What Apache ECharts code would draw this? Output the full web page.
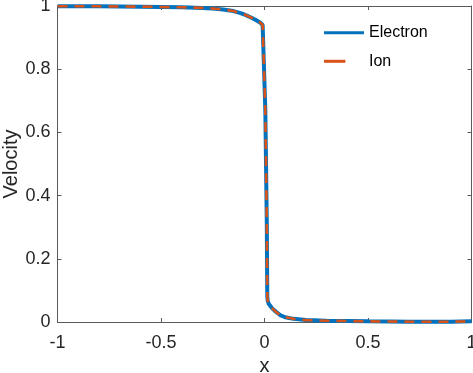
<!DOCTYPE html>
<html>
<head>
<meta charset="utf-8">
<script src="https://cdn.jsdelivr.net/npm/echarts@6/dist/echarts.min.js"></script>
<style>
html,body{margin:0;padding:0;background:#fff;}
#c{width:473px;height:373px;}
</style>
</head>
<body>
<div id="c"></div>
<script>
var xs = [-1, -0.8, -0.6, -0.5, -0.4, -0.3, -0.25, -0.2, -0.15, -0.12, -0.1, -0.08, -0.06, -0.04, -0.02, -0.009, 0.004, 0.011, 0.0135, 0.016, 0.02, 0.035, 0.05, 0.075, 0.1, 0.14, 0.2, 0.3, 0.5, 0.7, 0.9, 1.0];
var electronV = [0.999, 0.999, 0.998, 0.997, 0.996, 0.994, 0.992, 0.989, 0.984, 0.978, 0.974, 0.968, 0.962, 0.955, 0.947, 0.940, 0.67, 0.32, 0.08, 0.066, 0.058, 0.045, 0.035, 0.022, 0.015, 0.010, 0.006, 0.004, 0.002, 0.001, 0.001, 0.002];
var ionV = electronV.slice();
var xTicks = [-1, -0.5, 0, 0.5, 1];
var yTicks = [0, 0.2, 0.4, 0.6, 0.8, 1];
var seriesNames = ['Electron', 'Ion'];

var FONT = 'Liberation Sans, Arial, Helvetica, sans-serif';
function pairs(x, y){ return x.map(function(v,i){ return [v, y[i]]; }); }
var axisCol = '#5a5a5a';
var chart = echarts.init(document.getElementById('c'));
chart.setOption({
  animation: false,
  backgroundColor: '#fff',
  grid: {left: 57.5, right: 1.5, top: 6, bottom: 51, containLabel: false, outerBoundsMode: 'none'},
  legend: {
    orient: 'vertical', left: 322.5, top: 24.7, padding: 0,
    itemWidth: 40, itemHeight: 14, itemGap: 12.6,
    itemStyle: {opacity: 0},
    lineStyle: {width: 3},
    textStyle: {fontFamily: FONT, fontSize: 16, color: '#000'},
    data: [
      {name: seriesNames[0]},
      {name: seriesNames[1], lineStyle: {width: 3, type: [21.4, 22]}}
    ]
  },
  xAxis: [{
    type: 'value', min: -1, max: 1, interval: 0.5,
    name: 'x', nameLocation: 'middle', nameGap: 34, nameMoveOverlap: false,
    nameTextStyle: {fontFamily: FONT, fontSize: 20, color: '#262626'},
    axisLine: {show: true, onZero: false, lineStyle: {color: axisCol, width: 1}},
    axisTick: {show: true, inside: true, length: 4, lineStyle: {color: axisCol}},
    axisLabel: {fontFamily: FONT, fontSize: 18, color: '#262626', margin: 12,
      formatter: function(v){ return String(v); }},
    splitLine: {show: false}
  }, {
    type: 'value', min: -1, max: 1, interval: 0.5, position: 'top',
    axisLine: {show: true, onZero: false, lineStyle: {color: axisCol, width: 1}},
    axisTick: {show: true, inside: true, length: 4, lineStyle: {color: axisCol}},
    axisLabel: {show: false}, splitLine: {show: false}
  }],
  yAxis: [{
    type: 'value', min: 0, max: 1, interval: 0.2,
    name: 'Velocity', nameLocation: 'middle', nameGap: 36, nameMoveOverlap: false,
    nameTextStyle: {fontFamily: FONT, fontSize: 20, color: '#262626'},
    axisLine: {show: true, onZero: false, lineStyle: {color: axisCol, width: 1}},
    axisTick: {show: true, inside: true, length: 4, lineStyle: {color: axisCol}},
    axisLabel: {fontFamily: FONT, fontSize: 18, color: '#262626', margin: 7,
      formatter: function(v){ return String(v); }},
    splitLine: {show: false}
  }, {
    type: 'value', min: 0, max: 1, interval: 0.2, position: 'right',
    axisLine: {show: true, onZero: false, lineStyle: {color: axisCol, width: 1}},
    axisTick: {show: true, inside: true, length: 4, lineStyle: {color: axisCol}},
    axisLabel: {show: false}, splitLine: {show: false}
  }],
  series: [{
    name: seriesNames[0], type: 'line', data: pairs(xs, electronV),
    showSymbol: false, symbol: 'none',
    lineStyle: {color: '#0072BD', width: 4},
    itemStyle: {color: '#0072BD'}
  }, {
    name: seriesNames[1], type: 'line', data: pairs(xs, ionV),
    showSymbol: false, symbol: 'none',
    lineStyle: {color: '#D95319', width: 2.6, type: [10, 7]},
    itemStyle: {color: '#D95319'}
  }]
});
</script>
</body>
</html>
